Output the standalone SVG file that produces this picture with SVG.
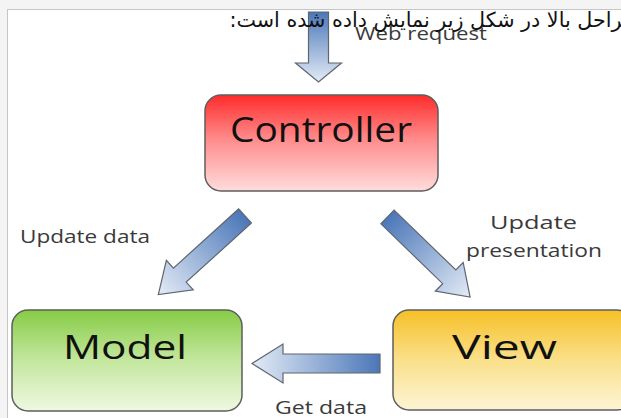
<svg xmlns="http://www.w3.org/2000/svg" width="621" height="418" viewBox="0 0 621 418">
  <style>
    .box { stroke: #5e5e5e; stroke-width: 1.5; }
    .title { font-family: "Open Sans", "Noto Sans", "Liberation Sans", sans-serif; fill: #111; }
    .lbl { font-family: "Open Sans", "Noto Sans", "Liberation Sans", sans-serif; font-size: 19px; fill: #3a3a3a; }
    .arrow { fill: url(#arrowFill); stroke: #5f6670; stroke-width: 1.2; stroke-linejoin: miter; }
    .fa { font-family: "DejaVu Sans", "Liberation Sans", sans-serif; font-size: 20.7px; fill: #111; }
  </style>
  <defs>
    <linearGradient id="redFill" x1="0" y1="0" x2="0" y2="1">
      <stop offset="0" stop-color="#ff2b2b"/>
      <stop offset="0.45" stop-color="#ff8a8a"/>
      <stop offset="1" stop-color="#ffdcdc"/>
    </linearGradient>
    <linearGradient id="greenFill" x1="0" y1="0" x2="0" y2="1">
      <stop offset="0" stop-color="#86cc45"/>
      <stop offset="0.5" stop-color="#c4e79e"/>
      <stop offset="1" stop-color="#eef8e2"/>
    </linearGradient>
    <linearGradient id="yellowFill" x1="0" y1="0" x2="0" y2="1">
      <stop offset="0" stop-color="#f6c026"/>
      <stop offset="0.5" stop-color="#fae08a"/>
      <stop offset="1" stop-color="#fdf4d6"/>
    </linearGradient>
    <!-- arrows are drawn pointing along +x, so this runs tail (dark) to tip (light) -->
    <linearGradient id="arrowFill" x1="0" y1="0" x2="1" y2="0">
      <stop offset="0" stop-color="#4b77b8"/>
      <stop offset="1" stop-color="#e3ebf6"/>
    </linearGradient>
  </defs>

  <!-- page frame -->
  <rect x="0" y="0" width="621" height="418" fill="#f4f4f4"/>
  <rect x="7.5" y="9.5" width="620" height="415" fill="#ffffff" stroke="#c6c6c6" stroke-width="1"/>

  <g id="connectors">
    <!-- web request -->
    <polygon class="arrow" points="0,-10 51,-10 51,-23 70,0 51,23 51,10 0,10" transform="translate(318.5,12) rotate(90)"/>
    <!-- controller to model -->
    <polygon class="arrow" points="0,-9.5 88,-9.5 88,-20 117,0 88,20 88,9.5 0,9.5" transform="translate(245,216) rotate(137.8)"/>
    <!-- controller to view -->
    <polygon class="arrow" points="0,-9.5 86,-9.5 86,-20 115,0 86,20 86,9.5 0,9.5" transform="translate(387.5,217) rotate(44.1)"/>
    <!-- view to model -->
    <polygon class="arrow" points="0,-9.5 97,-9.5 97,-19.5 128,0 97,19.5 97,9.5 0,9.5" transform="translate(380,363.5) rotate(180)"/>
  </g>

  <g id="labels">
    <text class="lbl" x="355" y="40" textLength="132" lengthAdjust="spacingAndGlyphs">Web request</text>
    <text class="lbl" x="20" y="243" textLength="130" lengthAdjust="spacingAndGlyphs">Update data</text>
    <text class="lbl" x="490" y="229" textLength="87" lengthAdjust="spacingAndGlyphs">Update</text>
    <text class="lbl" x="466" y="257" textLength="136" lengthAdjust="spacingAndGlyphs">presentation</text>
    <text class="lbl" x="275" y="414" textLength="92" lengthAdjust="spacingAndGlyphs">Get data</text>
  </g>

  <g id="controller">
    <rect class="box" x="205" y="95" width="233" height="96" rx="16" fill="url(#redFill)"/>
    <text class="title" x="230" y="142" font-size="34" textLength="182" lengthAdjust="spacingAndGlyphs">Controller</text>
  </g>

  <g id="model">
    <rect class="box" x="12" y="310" width="230" height="101" rx="16" fill="url(#greenFill)"/>
    <text class="title" x="63" y="359" font-size="33" textLength="124" lengthAdjust="spacingAndGlyphs">Model</text>
  </g>

  <g id="view">
    <rect class="box" x="393" y="310" width="240" height="100" rx="16" fill="url(#yellowFill)"/>
    <text class="title" x="452" y="359" font-size="33" textLength="105" lengthAdjust="spacingAndGlyphs">View</text>
  </g>

  <!-- page sentence above the figure -->
  <text class="fa" x="634" y="27" direction="rtl" unicode-bidi="embed" text-anchor="start">مراحل بالا در شکل زیر نمایش داده شده است:</text>
</svg>
